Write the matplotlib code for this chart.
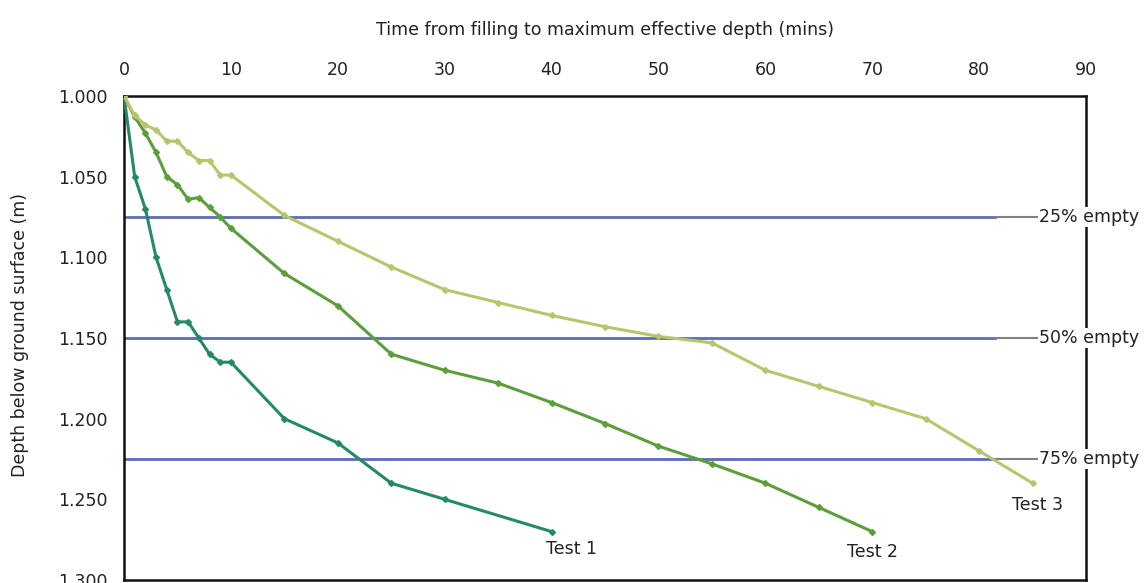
import matplotlib.pyplot as plt

plt.rcParams['font.family'] = ['DejaVu Sans']

# Test 1
t1 = [0, 1, 2, 3, 4, 5, 6, 7, 8, 9, 10, 15, 20, 25, 30, 40]
d1 = [1.000, 1.050, 1.070, 1.100, 1.120, 1.140, 1.140, 1.150, 1.160, 1.165,
      1.165, 1.200, 1.215, 1.240, 1.250, 1.270]

# Test 2
t2 = [0, 1, 2, 3, 4, 5, 6, 7, 8, 9, 10, 15, 20, 25, 30, 35, 40, 45, 50, 55,
      60, 65, 70]
d2 = [1.000, 1.013, 1.023, 1.035, 1.050, 1.055, 1.064, 1.063, 1.069, 1.075,
      1.082, 1.110, 1.130, 1.160, 1.170, 1.178, 1.190, 1.203, 1.217, 1.228,
      1.240, 1.255, 1.270]

# Test 3
t3 = [0, 1, 2, 3, 4, 5, 6, 7, 8, 9, 10, 15, 20, 25, 30, 35, 40, 45, 50, 55,
      60, 65, 70, 75, 80, 85]
d3 = [1.000, 1.012, 1.018, 1.021, 1.028, 1.028, 1.035, 1.040, 1.040, 1.049,
      1.049, 1.074, 1.090, 1.106, 1.120, 1.128, 1.136, 1.143, 1.149, 1.153,
      1.170, 1.180, 1.190, 1.200, 1.220, 1.240]

niveis = [1.075, 1.150, 1.225]
niveis_txt = ['25% empty', '50% empty', '75% empty']

fig = plt.figure(figsize=(11.48, 5.83), dpi=100)
ax = fig.add_axes([124 / 1148, 3 / 583, 962 / 1148, 484 / 583])

# linhas de nivel (azul, depois um trecho cinza ate o texto)
for nv, txt in zip(niveis, niveis_txt):
    ax.plot([0, 81.5], [nv, nv], color='#5b6db3', lw=2, zorder=1)
    ax.plot([81.5, 85.4], [nv, nv], color='#808080', lw=1.5, zorder=1)
    ax.text(85.6, nv, txt, fontsize=12.5, ha='left', va='center', color='#222222',
            clip_on=False, zorder=5,
            bbox=dict(facecolor='white', edgecolor='none', pad=1))

series = [(t1, d1, '#23896a', 'Test 1', (20, -17)),
          (t2, d2, '#5a9f3a', 'Test 2', (0, -20)),
          (t3, d3, '#b9c46c', 'Test 3', (5, -22))]
for t, d, cor, nome, off in series:
    ax.plot(t, d, color=cor, lw=2.2, marker='D', ms=3, zorder=3)
    ax.annotate(nome, xy=(t[-1], d[-1]), xytext=off, textcoords='offset pixels',
                ha='center', va='center', fontsize=12.5, color='#222222')

ax.set_xlim(0, 90)
ax.set_ylim(1.300, 1.000)
ax.set_xticks(range(0, 100, 10))
ax.set_yticks([1.000, 1.050, 1.100, 1.150, 1.200, 1.250, 1.300])
ax.set_yticklabels(['%.3f' % v for v in ax.get_yticks()])
ax.xaxis.tick_top()
ax.tick_params(length=0, labelsize=12.5, colors='#222222')
ax.tick_params(axis='x', pad=12)
ax.tick_params(axis='y', pad=12)
for s in ax.spines.values():
    s.set_linewidth(1.8)
    s.set_color('#111111')

fig.text(605 / 1148, 1 - 30 / 583, 'Time from filling to maximum effective depth (mins)',
         ha='center', va='center', fontsize=12.5, color='#222222')
fig.text(20 / 1148, 1 - 335 / 583, 'Depth below ground surface (m)', rotation=90,
         ha='center', va='center', fontsize=12.5, color='#222222')

fig.savefig('out.png', dpi=100)
